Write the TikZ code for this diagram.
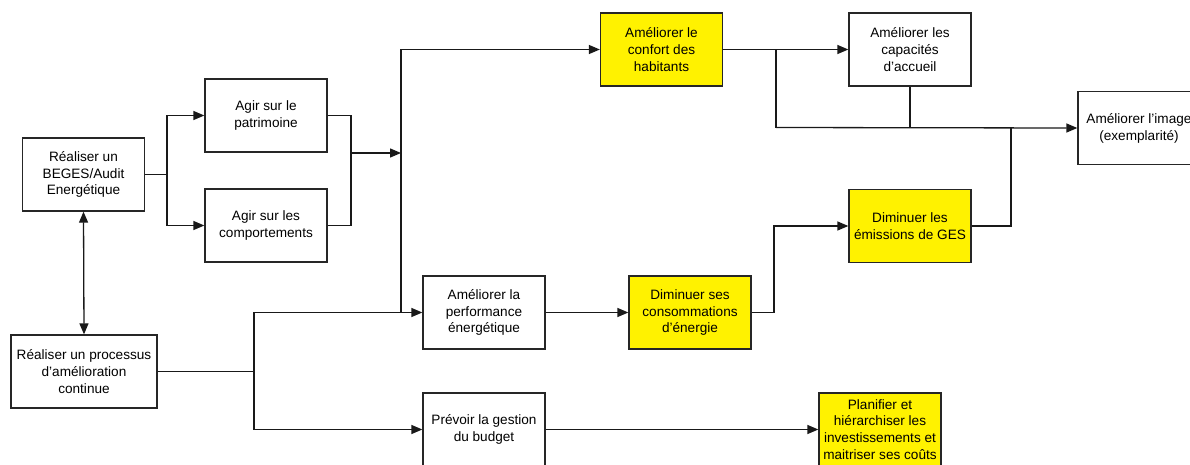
\documentclass[tikz,border=0pt]{standalone}
\usepackage{fontspec}
\setmainfont{Liberation Sans}
\usetikzlibrary{arrows.meta}
\begin{document}
\begin{tikzpicture}[x=1pt,y=-1pt,
  box/.style={draw=black!85, line width=1.3pt, minimum width=122pt, minimum height=73pt,
    align=center, inner sep=2pt, font=\fontsize{13.6}{16.8}\selectfont, fill=white},
  ybox/.style={box, fill=yellow},
  conn/.style={line width=1.3pt, draw=black!90},
  arr/.style={conn, -{Triangle[length=11pt,width=9pt]}},
  darr/.style={conn, {Triangle[length=11pt,width=9pt]}-{Triangle[length=11pt,width=9pt]}}]
\useasboundingbox (0,0) rectangle (1190,464);
\node[box] (beges) at (83.5,174.5) {Réaliser un\\BEGES/Audit\\Energétique};
\node[box] (patri) at (266,115.5) {Agir sur le\\patrimoine};
\node[box] (comport) at (266,225.5) {Agir sur les\\comportements};
\node[box, minimum width=146pt] (proc) at (84,371.5) {Réaliser un processus\\d’amélioration\\continue};
\node[ybox] (confort) at (661.5,49.5) {Améliorer le\\confort des\\habitants};
\node[box] (capac) at (910,49.5) {Améliorer les\\capacités\\d’accueil};
\node[box] (image) at (1139,128) {Améliorer l’image\\(exemplarité)};
\node[ybox] (ges) at (910,226) {Diminuer les\\émissions de GES};
\node[box] (perf) at (484,312.5) {Améliorer la\\performance\\énergétique};
\node[ybox] (conso) at (690,312.5) {Diminuer ses\\consommations\\d’énergie};
\node[box] (prevoir) at (484,429.5) {Prévoir la gestion\\du budget};
\node[ybox] (planif) at (880,429.5) {Planifier et\\hiérarchiser les\\investissements et\\maitriser ses coûts};

\coordinate (f1) at (167,174.5);
\coordinate (m1) at (351,153);
\coordinate (v1) at (401,153);
\coordinate (f2) at (254,371.5);
\coordinate (f3) at (776,49.5);
\coordinate (j1) at (776,127.5);
\coordinate (j3) at (1011,127.5);
\coordinate (f4) at (774,312.5);

% BEGES fork
\draw[conn] (beges.east) -- (f1);
\draw[arr] (f1) |- (patri.west);
\draw[arr] (f1) |- (comport.west);
% merge of patrimoine / comportements
\draw[conn] (patri.east) -| (m1) |- (comport.east);
\draw[arr] (m1) -- (v1);
% vertical bus at x=401
\draw[arr] (perf.west -| v1) |- (confort.west);
% processus fork
\draw[conn] (proc.east) -- (f2);
\draw[arr] (f2) |- (perf.west);
\draw[arr] (f2) |- (prevoir.west);
% double arrow
\draw[darr] (beges.south) -- (proc.north);
% perf -> conso
\draw[arr] (perf.east) -- (conso.west);
\draw[conn] (conso.east) -- (f4);
\draw[arr] (f4) |- (ges.west);
% confort -> capacites
\draw[arr] (confort.east) -- (capac.west);
\draw[conn] (f3) -- (j1);
\draw[arr] (j1) -- (image.west);
\draw[conn] (capac.south) -- (capac.south |- j1);
\draw[conn] (ges.east) -| (j3);
% budget
\draw[arr] (prevoir.east) -- (planif.west);
\end{tikzpicture}
\end{document}
